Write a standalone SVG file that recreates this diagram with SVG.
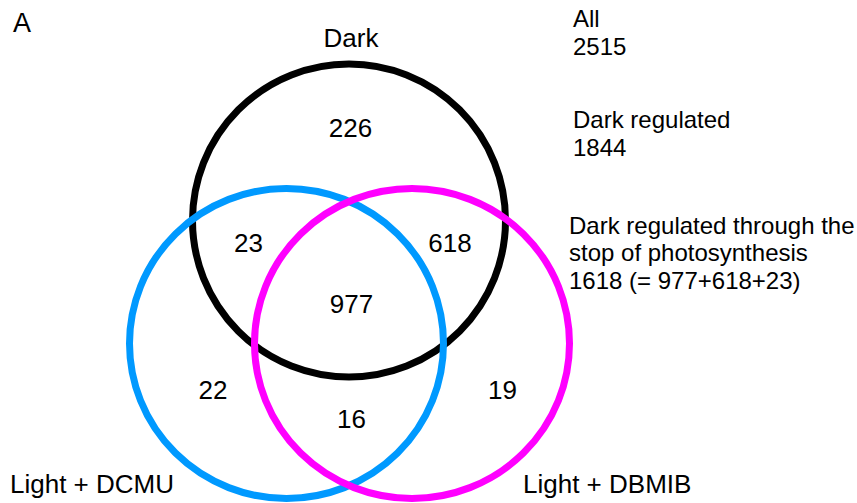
<svg xmlns="http://www.w3.org/2000/svg" width="857" height="503" viewBox="0 0 857 503">
<style>
.t{font-family:"Liberation Sans",Arial,sans-serif;fill:#000}
.n{font-size:26px;text-anchor:middle}
.r{font-size:24px}
.c{fill:none;stroke-width:7}
</style>
<rect width="857" height="503" fill="#fff"/>
<g id="panel-label"><text class="t" x="13" y="31.5" font-size="27">A</text></g>
<g id="dark"><circle class="c" cx="349" cy="220.5" r="156.5" stroke="#000"/><text class="t n" x="351" y="46.5">Dark</text></g>
<g id="dcmu"><ellipse class="c" cx="286.5" cy="343.5" rx="157" ry="155" stroke="#0099FF"/><text class="t" x="10" y="493" font-size="26">Light + DCMU</text></g>
<g id="dbmib"><ellipse class="c" cx="412" cy="343.5" rx="157.5" ry="155" stroke="#FF00FF"/><text class="t" x="523" y="492.5" font-size="26">Light + DBMIB</text></g>
<g id="counts">
<text class="t n" x="350.5" y="136.5">226</text>
<text class="t n" x="248.5" y="251.5">23</text>
<text class="t n" x="450" y="252">618</text>
<text class="t n" x="351.5" y="312.5">977</text>
<text class="t n" x="213" y="399">22</text>
<text class="t n" x="502.5" y="399">19</text>
<text class="t n" x="351.5" y="428">16</text>
</g>
<g id="legend" class="t r">
<text x="573" y="27.3">All</text>
<text x="573" y="55">2515</text>
<text x="573" y="128.3">Dark regulated</text>
<text x="573" y="156">1844</text>
<text x="569" y="233.5">Dark regulated through the</text>
<text x="569" y="261">stop of photosynthesis</text>
<text x="569" y="288.5">1618 (= 977+618+23)</text>
</g>
<g id="connectors"/>
</svg>
